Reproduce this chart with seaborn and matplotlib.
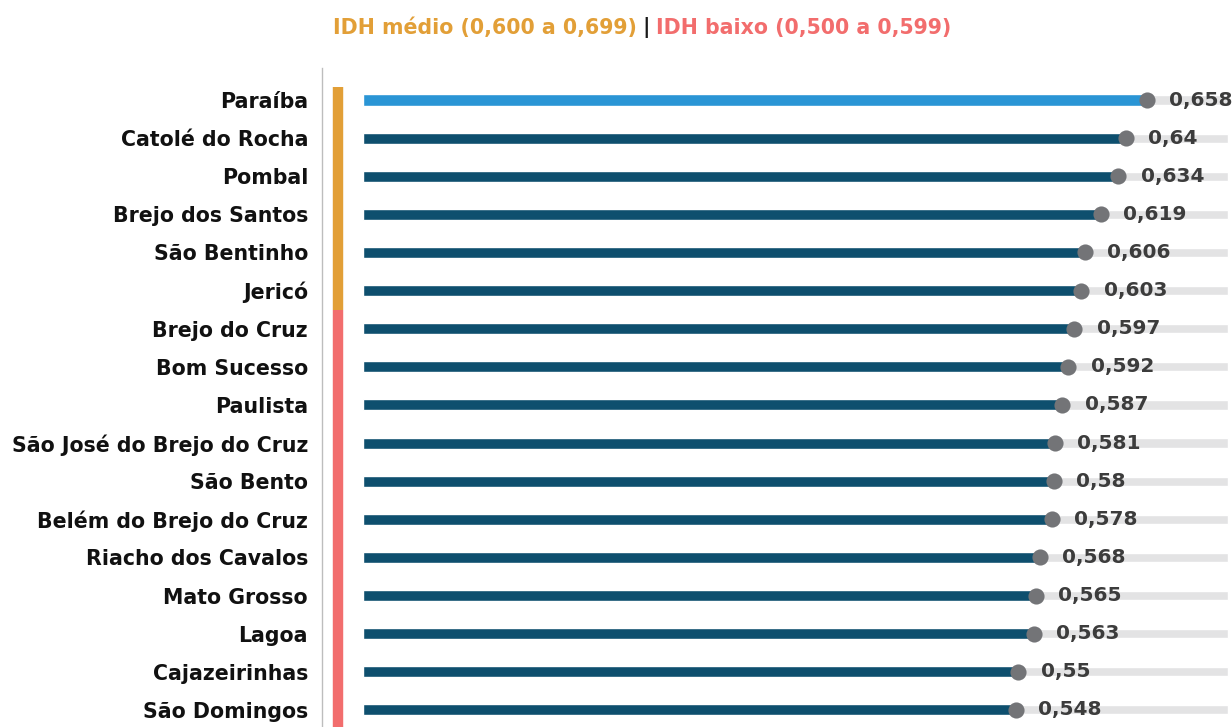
import matplotlib
matplotlib.use("Agg")
import matplotlib.pyplot as plt
import seaborn as sns
import pandas as pd

municipios = [
    "Paraíba", "Catolé do Rocha", "Pombal", "Brejo dos Santos", "São Bentinho",
    "Jericó", "Brejo do Cruz", "Bom Sucesso", "Paulista", "São José do Brejo do Cruz",
    "São Bento", "Belém do Brejo do Cruz", "Riacho dos Cavalos", "Mato Grosso",
    "Lagoa", "Cajazeirinhas", "São Domingos",
]
idh = [0.658, 0.64, 0.634, 0.619, 0.606, 0.603, 0.597, 0.592, 0.587, 0.581,
       0.58, 0.578, 0.568, 0.565, 0.563, 0.55, 0.548]
rotulos = ["0,658", "0,64", "0,634", "0,619", "0,606", "0,603", "0,597", "0,592",
           "0,587", "0,581", "0,58", "0,578", "0,568", "0,565", "0,563", "0,55", "0,548"]

COR_MEDIO = "#E29F37"
COR_BAIXO = "#F26D6D"
COR_ESTADO = "#2A95D5"
COR_MUNIC = "#0E4F6E"
COR_TRILHO = "#E3E3E4"
COR_PONTO = "#737477"
TRILHO_FIM = 0.726
FONTE = "DejaVu Sans"

sns.set_theme(style="white")
plt.rcParams["font.family"] = [FONTE]

df = pd.DataFrame({"municipio": municipios, "idh": idh})
df["trilho"] = TRILHO_FIM
df["pos"] = range(len(df))

fig = plt.figure(figsize=(12.32, 7.27), dpi=100)
ax = fig.add_axes([322 / 1232, 0.0, 1 - 322 / 1232, 1 - 68 / 727])

# background track
sns.barplot(data=df, x="trilho", y="municipio", color=COR_TRILHO, width=0.24,
            orient="h", ax=ax, zorder=1)
# value bars (state highlighted)
cores = {m: (COR_ESTADO if m == "Paraíba" else COR_MUNIC) for m in municipios}
sns.barplot(data=df, x="idh", y="municipio", hue="municipio", palette=cores,
            width=0.29, orient="h", ax=ax, legend=False, zorder=2, saturation=1)
# end dots
sns.scatterplot(data=df, x="idh", y="pos", color=COR_PONTO, s=135, linewidth=0,
                ax=ax, zorder=3)

for i, (v, r) in enumerate(zip(idh, rotulos)):
    ax.annotate(r, (v, i), xytext=(16, 0), textcoords="offset points",
                va="center", ha="left", fontsize=14.5, fontweight="bold",
                color="#3C3C3C", annotation_clip=False, clip_on=False)

# class indicator strip
n_medio = sum(1 for v in idh if v >= 0.6)
ax.plot([-0.021, -0.021], [-0.34, n_medio - 0.5], color=COR_MEDIO, lw=7.5,
        solid_capstyle="butt", zorder=2)
ax.plot([-0.021, -0.021], [n_medio - 0.5, len(idh) + 1], color=COR_BAIXO, lw=7.5,
        solid_capstyle="butt", zorder=2)

ax.set_xlim(-41 / 1191.5, 869 / 1191.5)
ax.set_ylim(16.45, -0.84)
ax.set_xlabel("")
ax.set_ylabel("")
ax.set_xticks([])
ax.set_yticks(range(len(municipios)))
ax.set_yticklabels(municipios, fontsize=14.8, fontweight="bold", color="#111111")
ax.tick_params(axis="y", length=0, pad=10)
for s in ["top", "right", "bottom"]:
    ax.spines[s].set_visible(False)
ax.spines["left"].set_color("#BDBDBD")
ax.spines["left"].set_linewidth(1.0)

fig.text(637 / 1232, 1 - 28 / 727, "IDH médio (0,600 a 0,699)", ha="right",
         va="center", fontsize=14.8, fontweight="bold", color=COR_MEDIO)
fig.text(646 / 1232, 1 - 28 / 727, "|", ha="center", va="center", fontsize=14.8,
         fontweight="bold", color="#1A1A1A")
fig.text(656 / 1232, 1 - 28 / 727, "IDH baixo (0,500 a 0,599)", ha="left",
         va="center", fontsize=14.8, fontweight="bold", color=COR_BAIXO)

fig.savefig("out.png", dpi=100)
